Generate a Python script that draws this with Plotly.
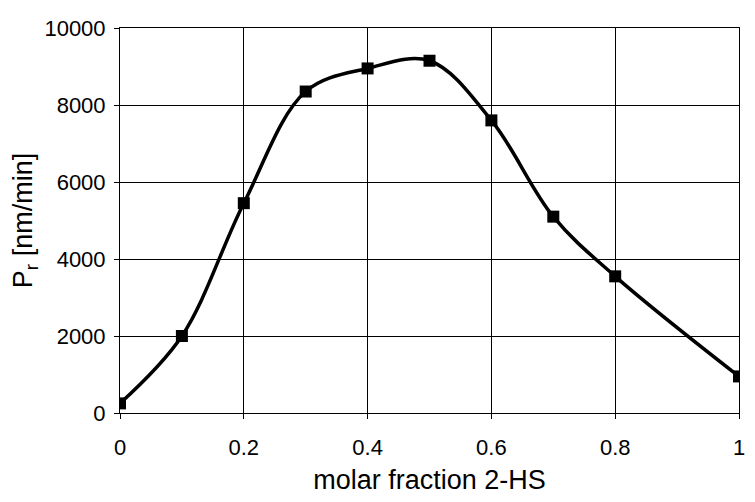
import plotly.graph_objects as go

x_vals = [0, 0.1, 0.2, 0.3, 0.4, 0.5, 0.6, 0.7, 0.8, 1.0]
y_vals = [250, 2000, 5450, 8350, 8950, 9150, 7600, 5100, 3550, 950]
x_ticks = [0, 0.2, 0.4, 0.6, 0.8, 1]
x_tick_text = ["0", "0.2", "0.4", "0.6", "0.8", "1"]
y_ticks = [0, 2000, 4000, 6000, 8000, 10000]
y_tick_text = ["0", "2000", "4000", "6000", "8000", "10000"]

FONT = "Liberation Sans, Arial, sans-serif"

fig = go.Figure()
fig.add_trace(go.Scatter(
    x=x_vals, y=y_vals, mode="lines+markers",
    line=dict(color="black", width=3.5, shape="spline", smoothing=1.0),
    marker=dict(symbol="square", size=12, color="black"),
    showlegend=False,
))

axis_common = dict(
    showgrid=True, gridcolor="black", gridwidth=1,
    showline=True, linecolor="black", linewidth=1, mirror=True,
    zeroline=False, ticks="outside", ticklen=5, tickcolor="black",
    automargin=False,
    tickfont=dict(family=FONT, size=22, color="black"),
)

fig.update_layout(
    width=755, height=502,
    margin=dict(l=112, r=24, t=20, b=97),
    paper_bgcolor="white", plot_bgcolor="white",
    xaxis=dict(range=[0, 1], tickvals=x_ticks, ticktext=x_tick_text,
               ticklabelstandoff=10,
               title=dict(text="molar fraction 2-HS", standoff=10,
                          font=dict(family=FONT, size=27, color="black")),
               **axis_common),
    yaxis=dict(range=[0, 10000], tickvals=y_ticks, ticktext=y_tick_text,
               ticklabelstandoff=4,
               title=dict(text="P<sub>r</sub> [nm/min]", standoff=12,
                          font=dict(family=FONT, size=27, color="black")),
               **axis_common),
)

fig.write_html("out.html")
